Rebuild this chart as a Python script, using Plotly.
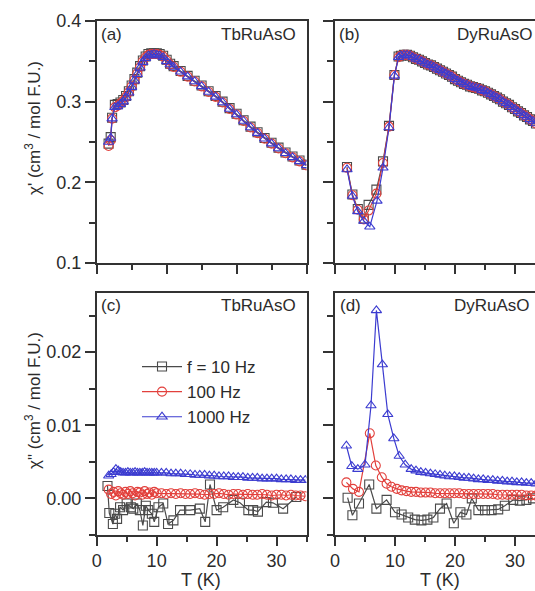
import plotly.graph_objects as go

# ---------------- data ----------------
# (a) TbRuAsO chi'
Ta = [1.7, 2.0, 2.2, 2.6, 3.0, 3.4, 3.8, 4.2, 4.6, 5.0, 5.4, 5.8, 6.2, 6.6, 7.0, 7.4, 7.8, 8.2, 8.6, 9.0, 9.5, 10.0, 10.5,
      11, 12, 13, 14, 15, 16, 17, 18, 19, 20, 21, 22, 23, 24, 25, 26, 27, 28, 29, 30]
a_10 = [0.248, 0.256, 0.280, 0.296, 0.297, 0.299, 0.302, 0.307, 0.313, 0.320, 0.328, 0.336, 0.344, 0.351, 0.356, 0.359,
        0.360, 0.360, 0.360, 0.359, 0.357, 0.352, 0.347,
        0.344, 0.338, 0.332, 0.326, 0.320, 0.313, 0.307, 0.300, 0.292, 0.285, 0.277, 0.269, 0.262, 0.255, 0.249, 0.243,
        0.237, 0.232, 0.227, 0.222]
a_100 = [0.245, 0.252, 0.279, 0.293, 0.295, 0.298, 0.301, 0.306, 0.312, 0.319, 0.327, 0.335, 0.343, 0.350, 0.355, 0.358,
         0.359, 0.359, 0.359, 0.358, 0.356, 0.351, 0.346,
         0.343, 0.337, 0.331, 0.325, 0.319, 0.312, 0.306, 0.299, 0.291, 0.284, 0.276, 0.268, 0.261, 0.254, 0.248, 0.242,
         0.236, 0.231, 0.226, 0.221]
a_1000 = [0.250, 0.255, 0.279, 0.293, 0.294, 0.297, 0.300, 0.305, 0.311, 0.318, 0.326, 0.334, 0.342, 0.349, 0.354, 0.357,
          0.358, 0.359, 0.358, 0.357, 0.355, 0.350, 0.346,
          0.343, 0.337, 0.331, 0.325, 0.319, 0.312, 0.306, 0.299, 0.291, 0.284, 0.276, 0.268, 0.261, 0.254, 0.248, 0.242,
          0.236, 0.231, 0.226, 0.221]

# (b) DyRuAsO chi'
Tb_low = [2.0, 2.9, 3.8, 4.8, 5.6, 6.9, 8.0, 9.0, 9.9, 10.6]
Tb_low_1000 = [2.0, 2.9, 3.8, 4.8, 5.8, 7.0, 8.0, 9.0, 9.9, 10.6]
b_low_10 = [0.219, 0.185, 0.167, 0.155, 0.172, 0.191, 0.226, 0.270, 0.333, 0.356]
b_low_100 = [0.218, 0.184, 0.166, 0.154, 0.165, 0.186, 0.224, 0.269, 0.333, 0.355]
b_low_1000 = [0.216, 0.183, 0.164, 0.152, 0.145, 0.177, 0.218, 0.268, 0.332, 0.355]
Tb_tail = [11.0, 11.5, 12.0, 12.5, 13.0, 13.5, 14.0, 14.5, 15.0, 15.5, 16.0, 16.5, 17.0, 17.5, 18.0, 18.5, 19.0, 19.5,
           20.0, 20.5, 21.0, 21.5, 22.0, 22.5, 23.0, 23.5, 24.0, 24.5, 25.0, 25.5, 26.0, 26.5, 27.0, 27.5, 28.0, 28.5,
           29.0, 29.5, 30.0, 30.5, 31.0, 31.5, 32.0, 32.5, 33.0, 33.5]
b_tail = [0.357, 0.358, 0.358, 0.357, 0.355, 0.353, 0.352, 0.350, 0.348, 0.346, 0.345, 0.343, 0.341, 0.339, 0.337,
          0.335, 0.333, 0.331, 0.328, 0.326, 0.324, 0.322, 0.321, 0.319, 0.318, 0.317, 0.316, 0.314, 0.313, 0.311,
          0.309, 0.307, 0.305, 0.303, 0.300, 0.298, 0.296, 0.293, 0.291, 0.288, 0.286, 0.283, 0.281, 0.278, 0.276, 0.273]

# (c) TbRuAsO chi''
Tc_low = [2.0, 2.4, 2.8, 3.2, 3.6, 4.0, 4.4, 4.8, 5.2, 5.6, 6.0, 6.4, 6.8, 7.2, 7.6, 8.0, 8.4, 8.8, 9.2, 9.6, 10.0]
Tc_tail = [10.8, 11.6, 12.4, 13.2, 14.0, 14.8, 15.6, 16.4, 17.2, 18.0, 18.8, 19.6, 20.4, 21.2, 22.0, 22.8, 23.6, 24.4,
           25.2, 26.0, 26.8, 27.6, 28.4, 29.2, 30.0, 30.8, 31.6, 32.4, 33.2, 34.0, 34.8]
c_1000_low = [0.0031, 0.0033, 0.0036, 0.0040, 0.0038, 0.0036, 0.0035, 0.0035, 0.0036, 0.0035, 0.0035, 0.0036, 0.0035,
              0.0035, 0.0035, 0.0036, 0.0035, 0.0035, 0.0035, 0.0035, 0.0035]
c_1000_tail = [0.0035, 0.0035, 0.0034, 0.0034, 0.0034, 0.0033, 0.0033, 0.0032, 0.0032, 0.0032, 0.0031, 0.0031, 0.0030,
               0.0030, 0.0030, 0.0029, 0.0029, 0.0029, 0.0028, 0.0028, 0.0028, 0.0027, 0.0027, 0.0027, 0.0027, 0.0026,
               0.0026, 0.0026, 0.0025, 0.0025, 0.0025]
c_100_low = [0.0012, 0.0006, 0.0009, 0.0004, 0.0010, 0.0007, 0.0005, 0.0009, 0.0006, 0.0010, 0.0007, 0.0004, 0.0009,
             0.0008, 0.0005, 0.0010, 0.0006, 0.0008, 0.0005, 0.0009, 0.0007]
c_100_tail = [0.0007, 0.0006, 0.0007, 0.0006, 0.0007, 0.0006, 0.0006, 0.0007, 0.0006, 0.0005, 0.0006, 0.0006, 0.0007,
              0.0006, 0.0005, 0.0006, 0.0006, 0.0005, 0.0006, 0.0005, 0.0005, 0.0006, 0.0005, 0.0004, 0.0005, 0.0005,
              0.0004, 0.0005, 0.0004, 0.0004, 0.0003]
Tc_10 = [1.8, 2.1, 2.7, 3.1, 3.4, 3.9, 4.4, 5.0, 5.7, 6.1, 6.7, 7.2, 7.7, 8.2, 8.6, 9.2, 9.6, 10.3, 11.1, 11.9, 12.8,
         13.9, 15.6, 17.2, 18.1, 18.9, 20.0, 21.1, 22.8, 23.9, 25.3, 26.1, 26.9, 28.3, 29.4, 31.1, 33.3]
c_10 = [0.0017, -0.0020, -0.0035, -0.0021, -0.0028, -0.0012, -0.0016, -0.0007, -0.0012, -0.0014, -0.0007, -0.0016,
        -0.0037, -0.0010, -0.0016, -0.0021, -0.0032, -0.0012, -0.0007, -0.0035, -0.0030, -0.0016, -0.0016, -0.0014,
        -0.0032, 0.0019, -0.0016, -0.0012, -0.0002, -0.0006, -0.0016, -0.0016, -0.0018, -0.0005, -0.0006, -0.0014,
        0.0002]

# (d) DyRuAsO chi''
Td_1000 = [1.9, 2.8, 3.8, 5.0, 6.0, 6.9, 7.9, 8.8, 9.8, 10.7, 11.7, 12.7, 13.5,
           14.3, 15.1, 15.9, 16.7, 17.5, 18.3, 19.1, 19.9, 20.7, 21.5, 22.3, 23.1, 23.9, 24.7, 25.5, 26.3, 27.1, 27.9,
           28.7, 29.5, 30.3, 31.1, 31.9, 32.7, 33.5]
d_1000 = [0.0072, 0.0044, 0.0040, 0.0046, 0.0127, 0.0257, 0.0183, 0.0115, 0.0082, 0.0058, 0.0046, 0.0040, 0.0038,
          0.0036, 0.0035, 0.0034, 0.0033, 0.0032, 0.0031, 0.0030, 0.0030, 0.0029, 0.0028, 0.0028, 0.0027, 0.0026,
          0.0026, 0.0025, 0.0025, 0.0024, 0.0024, 0.0023, 0.0023, 0.0022, 0.0022, 0.0021, 0.0021, 0.0020]
Td_100 = [1.9, 3.0, 4.0, 5.8, 6.8, 7.8, 8.6, 9.4, 10.3,
          11.1, 11.9, 12.7, 13.5, 14.3, 15.1, 15.9, 16.7, 17.5, 18.3, 19.1, 19.9, 20.7, 21.5, 22.3, 23.1, 23.9, 24.7,
          25.5, 26.3, 27.1, 27.9, 28.7, 29.5, 30.3, 31.1, 31.9, 32.7, 33.5]
d_100 = [0.0022, 0.0013, 0.0009, 0.0089, 0.0045, 0.0029, 0.0020, 0.0016, 0.0013,
         0.0011, 0.0010, 0.0009, 0.0009, 0.0008, 0.0008, 0.0008, 0.0007, 0.0007, 0.0007, 0.0007, 0.0007, 0.0007,
         0.0006, 0.0006, 0.0006, 0.0006, 0.0006, 0.0006, 0.0006, 0.0005, 0.0005, 0.0005, 0.0005, 0.0005, 0.0005,
         0.0004, 0.0004, 0.0004]
Td_10 = [2.1, 2.9, 4.0, 5.7, 6.9, 8.6, 10.0, 11.1, 12.2, 13.3, 14.4, 15.4, 16.4, 17.5, 18.6, 19.8, 20.9, 21.9, 22.8,
         23.9, 25.0, 26.1, 27.2, 28.3, 29.7, 30.8, 31.9, 33.0]
d_10 = [0.0001, -0.0023, -0.0007, 0.0019, -0.0014, -0.0002, -0.0019, -0.0022, -0.0026, -0.0029, -0.0030, -0.0029,
        -0.0026, -0.0014, -0.0007, -0.0034, -0.0019, -0.0022, 0.0000, -0.0016, -0.0016, -0.0016, -0.0015, -0.0010,
        -0.0002, -0.0003, -0.0002, 0.0000]

series_names = ["f = 10 Hz", "100 Hz", "1000 Hz"]
panel_labels = ["(a)", "(b)", "(c)", "(d)"]
compounds = ["TbRuAsO", "DyRuAsO", "TbRuAsO", "DyRuAsO"]

# ---------------- style ----------------
W, H = 535, 591
FONT = "Liberation Sans, Arial, sans-serif"
TXT = "#2b2b2b"
AX = "#333333"
COLS = ["#4a4a4a", "#e2403c", "#3c3cd0"]
SYMS = ["square-open", "circle-open", "triangle-up-open"]

def px_x(p):
    return p / W

def px_y(p):
    return 1 - p / H

dom_x_left = [px_x(96.7), px_x(306.5)]
dom_x_right = [px_x(335), 1.0]
dom_y_top = [px_y(263), px_y(21)]
dom_y_bot = [px_y(535), px_y(292.5)]

fig = go.Figure()

def add(x, y, i, xa, ya, show=False):
    fig.add_trace(go.Scatter(
        x=x, y=y, mode="lines+markers", name=series_names[i], showlegend=show,
        xaxis=xa, yaxis=ya,
        line=dict(color=COLS[i], width=1.2),
        marker=dict(symbol=SYMS[i], size=9, color=COLS[i], line=dict(width=1.1, color=COLS[i])),
    ))

# (a)
add(Ta, a_10, 0, "x", "y")
add(Ta, a_100, 1, "x", "y")
add(Ta, a_1000, 2, "x", "y")
# (b)
add(Tb_low + Tb_tail, b_low_10 + b_tail, 0, "x2", "y2")
add(Tb_low + Tb_tail, b_low_100 + b_tail, 1, "x2", "y2")
add(Tb_low_1000 + Tb_tail, b_low_1000 + b_tail, 2, "x2", "y2")
# (c)
add(Tc_10, c_10, 0, "x3", "y3", True)
add(Tc_low + Tc_tail, c_100_low + c_100_tail, 1, "x3", "y3", True)
add(Tc_low + Tc_tail, c_1000_low + c_1000_tail, 2, "x3", "y3", True)
# (d)
add(Td_10, d_10, 0, "x4", "y4")
add(Td_100, d_100, 1, "x4", "y4")
add(Td_1000, d_1000, 2, "x4", "y4")

tickfont = dict(family=FONT, size=18, color=TXT)

def xax(domain, rng, anchor, labels, mirror=True):
    return dict(domain=domain, range=rng, anchor=anchor, showline=True, linecolor=AX, linewidth=1.6,
                mirror=mirror, showgrid=False, zeroline=False, ticks="outside", ticklen=9, tickwidth=1.5,
                tickcolor=AX, tick0=0, dtick=10, showticklabels=labels, tickfont=tickfont, automargin=False,
                minor=dict(ticks="outside", ticklen=5, tickwidth=1.5, tickcolor=AX, dtick=5, tick0=0))

def yax(domain, rng, anchor, labels, dtick, minor, fmt, mirror=True):
    return dict(domain=domain, range=rng, anchor=anchor, showline=True, linecolor=AX, linewidth=1.6,
                mirror=mirror, showgrid=False, zeroline=False, ticks="outside", ticklen=10, tickwidth=1.5,
                tickcolor=AX, tick0=0, dtick=dtick, tickformat=fmt, showticklabels=labels, tickfont=tickfont,
                automargin=False,
                minor=dict(ticks="outside", ticklen=6, tickwidth=1.5, tickcolor=AX, dtick=minor, tick0=0))

yr_top = [0.1, 0.4]
yr_bot = [-0.005, 0.02815]

fig.update_layout(
    width=W, height=H, margin=dict(l=0, r=0, t=0, b=0, pad=0, autoexpand=False),
    paper_bgcolor="white", plot_bgcolor="white",
    font=dict(family=FONT, size=17, color=TXT),
    xaxis=xax(dom_x_left, [0, 30], "y", False),
    yaxis=yax(dom_y_top, yr_top, "x", True, 0.1, 0.05, ".1f"),
    xaxis2=xax(dom_x_right, [0, 200 / 6], "y2", False),
    yaxis2=yax(dom_y_top, yr_top, "x2", False, 0.1, 0.05, ".1f", mirror=False),
    xaxis3=xax(dom_x_left, [0, 35], "y3", True),
    yaxis3=yax(dom_y_bot, yr_bot, "x3", True, 0.01, 0.005, ".2f"),
    xaxis4=xax(dom_x_right, [0, 200 / 6], "y4", True),
    yaxis4=yax(dom_y_bot, yr_bot, "x4", False, 0.01, 0.005, ".2f", mirror=False),
    legend=dict(x=px_x(137), y=px_y(349), xanchor="left", yanchor="top", bgcolor="rgba(0,0,0,0)",
                font=dict(family=FONT, size=17, color=TXT), borderwidth=0, tracegroupgap=0,
                itemwidth=40),
    showlegend=True,
)

ann = []
# panel labels
lab_pos = [(99, 35), (337, 35), (99, 305), (338, 305)]
for (x, y), t in zip(lab_pos, panel_labels):
    ann.append(dict(x=px_x(x), y=px_y(y), xref="paper", yref="paper", text=t, showarrow=False,
                    xanchor="left", yanchor="middle", font=dict(family=FONT, size=17, color=TXT)))
comp_pos = [(298, 35, "right"), (455, 35, "left"), (298, 305, "right"), (452, 305, "left")]
for (x, y, anc), t in zip(comp_pos, compounds):
    ann.append(dict(x=px_x(x), y=px_y(y), xref="paper", yref="paper", text=t, showarrow=False,
                    xanchor=anc, yanchor="middle", font=dict(family=FONT, size=17, color=TXT)))
# axis titles
for cx in (201, 440):
    ann.append(dict(x=px_x(cx), y=px_y(580), xref="paper", yref="paper", text="T (K)", showarrow=False,
                    xanchor="center", yanchor="middle", font=dict(family=FONT, size=18, color=TXT)))
ann.append(dict(x=px_x(33), y=px_y(128), xref="paper", yref="paper", text="χ' (cm<sup>3</sup> / mol F.U.)",
                showarrow=False, textangle=-90, xanchor="center", yanchor="middle",
                font=dict(family=FONT, size=17, color=TXT)))
ann.append(dict(x=px_x(33), y=px_y(401), xref="paper", yref="paper", text="χ\" (cm<sup>3</sup> / mol F.U.)",
                showarrow=False, textangle=-90, xanchor="center", yanchor="middle",
                font=dict(family=FONT, size=17, color=TXT)))
fig.update_layout(annotations=ann)

fig.write_html("out.html", config={"displayModeBar": False},
               post_script="document.body.style.margin='0';document.body.style.padding='0';")
